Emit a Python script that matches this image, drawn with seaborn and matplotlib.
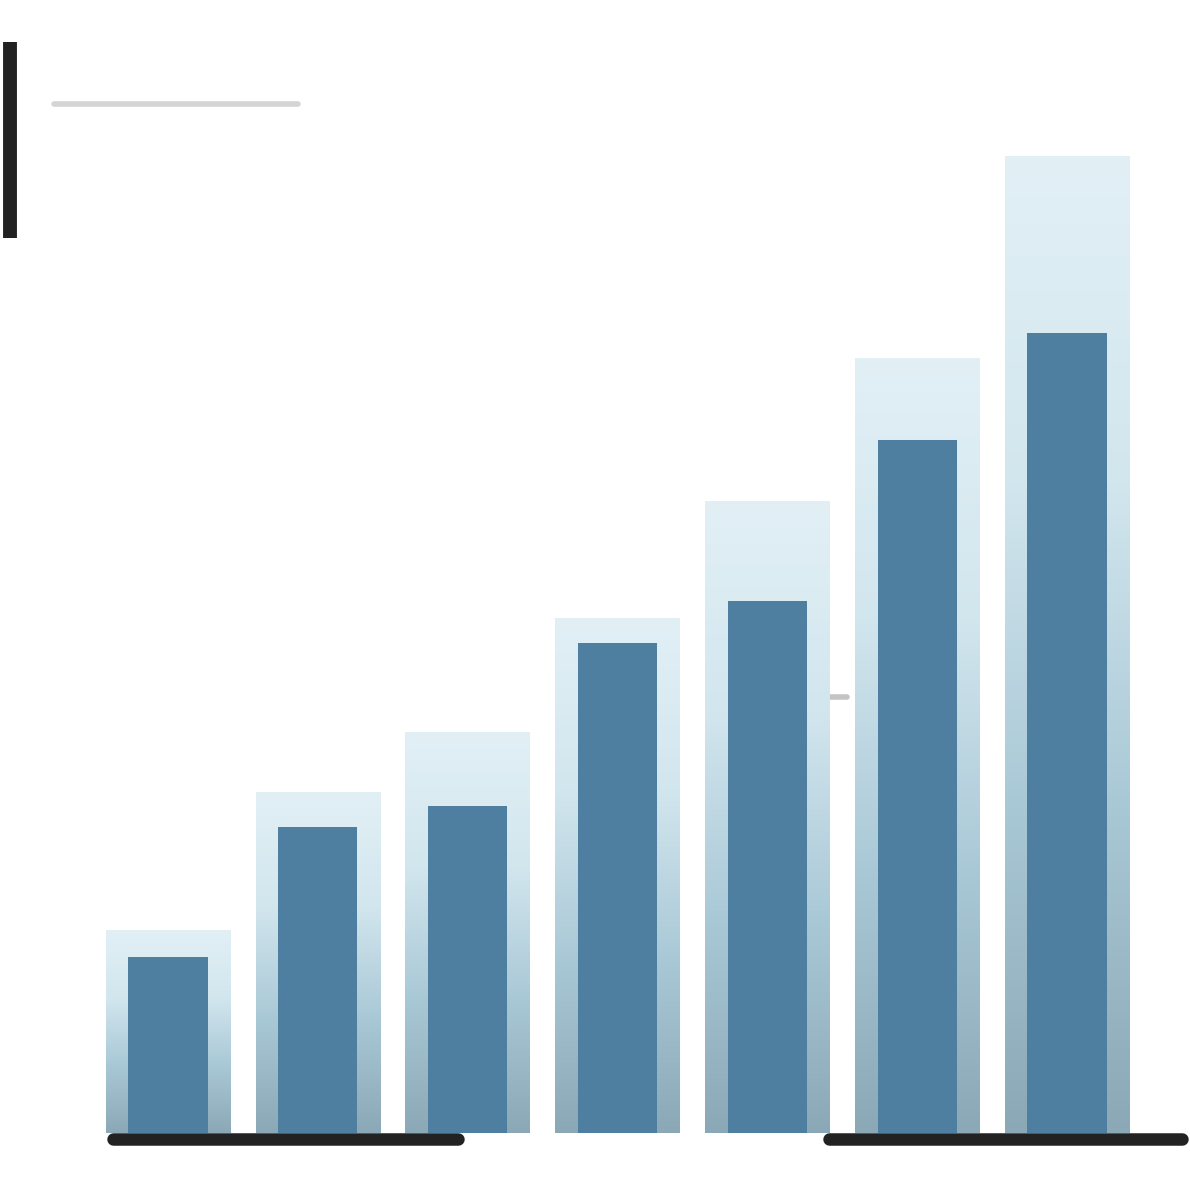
import numpy as np
import seaborn as sns
import matplotlib.pyplot as plt
from matplotlib.colors import LinearSegmentedColormap

# seven steps, no labels on the picture
steps = ["1", "2", "3", "4", "5", "6", "7"]
outer_vals = [20.3, 34.1, 40.1, 51.5, 63.2, 77.5, 97.7]
inner_vals = [17.6, 30.6, 32.7, 49.0, 53.2, 69.3, 80.0]

sns.set_theme(style="white")

fig = plt.figure(figsize=(11.9, 11.9), dpi=100)
ax = fig.add_axes([0, 0, 1, 1])

# light glassy back bars
sns.barplot(x=steps, y=outer_vals, width=0.83, color="#c8dde6",
            linewidth=0, ax=ax, zorder=2)
outer_patches = list(ax.patches)

cmap = LinearSegmentedColormap.from_list(
    "glass", ["#e2f0f6", "#d2e6ee", "#a9c8d6", "#8ba8b6"])
grad = np.linspace(0, 1, 256).reshape(-1, 1)
for p in outer_patches:
    x0, w, h = p.get_x(), p.get_width(), p.get_height()
    im = ax.imshow(grad, extent=[x0, x0 + w, 0, h], origin="upper",
                   aspect="auto", cmap=cmap, zorder=2.5)
    im.set_clip_path(p)
    p.set_facecolor("none")
    p.set_edgecolor("none")

# solid front bars
sns.barplot(x=steps, y=inner_vals, width=0.53, color="#4e7ea0",
            saturation=1, linewidth=0, ax=ax, zorder=3)

ax.set_xlim(-1.12, 6.82)
ax.set_ylim(-5.7, 113.3)
ax.axis("off")

# decorations: dark base, left post, faint top rule
ax.plot([0.095, 0.385], [0.043, 0.043], transform=ax.transAxes,
        color="#222222", lw=9, solid_capstyle="round", zorder=1)
ax.plot([0.697, 0.993], [0.043, 0.043], transform=ax.transAxes,
        color="#222222", lw=9, solid_capstyle="round", zorder=1)
ax.plot([0.0085, 0.0085], [0.965, 0.8], transform=ax.transAxes,
        color="#222222", lw=10, solid_capstyle="butt", zorder=1)
ax.plot([0.045, 0.25], [0.913, 0.913], transform=ax.transAxes,
        color="#d4d4d4", lw=4, solid_capstyle="round", zorder=1)
ax.plot([0.693, 0.712], [0.414, 0.414], transform=ax.transAxes,
        color="#c4c4c4", lw=4, zorder=1)

fig.savefig("out.png", dpi=100, facecolor="white")
